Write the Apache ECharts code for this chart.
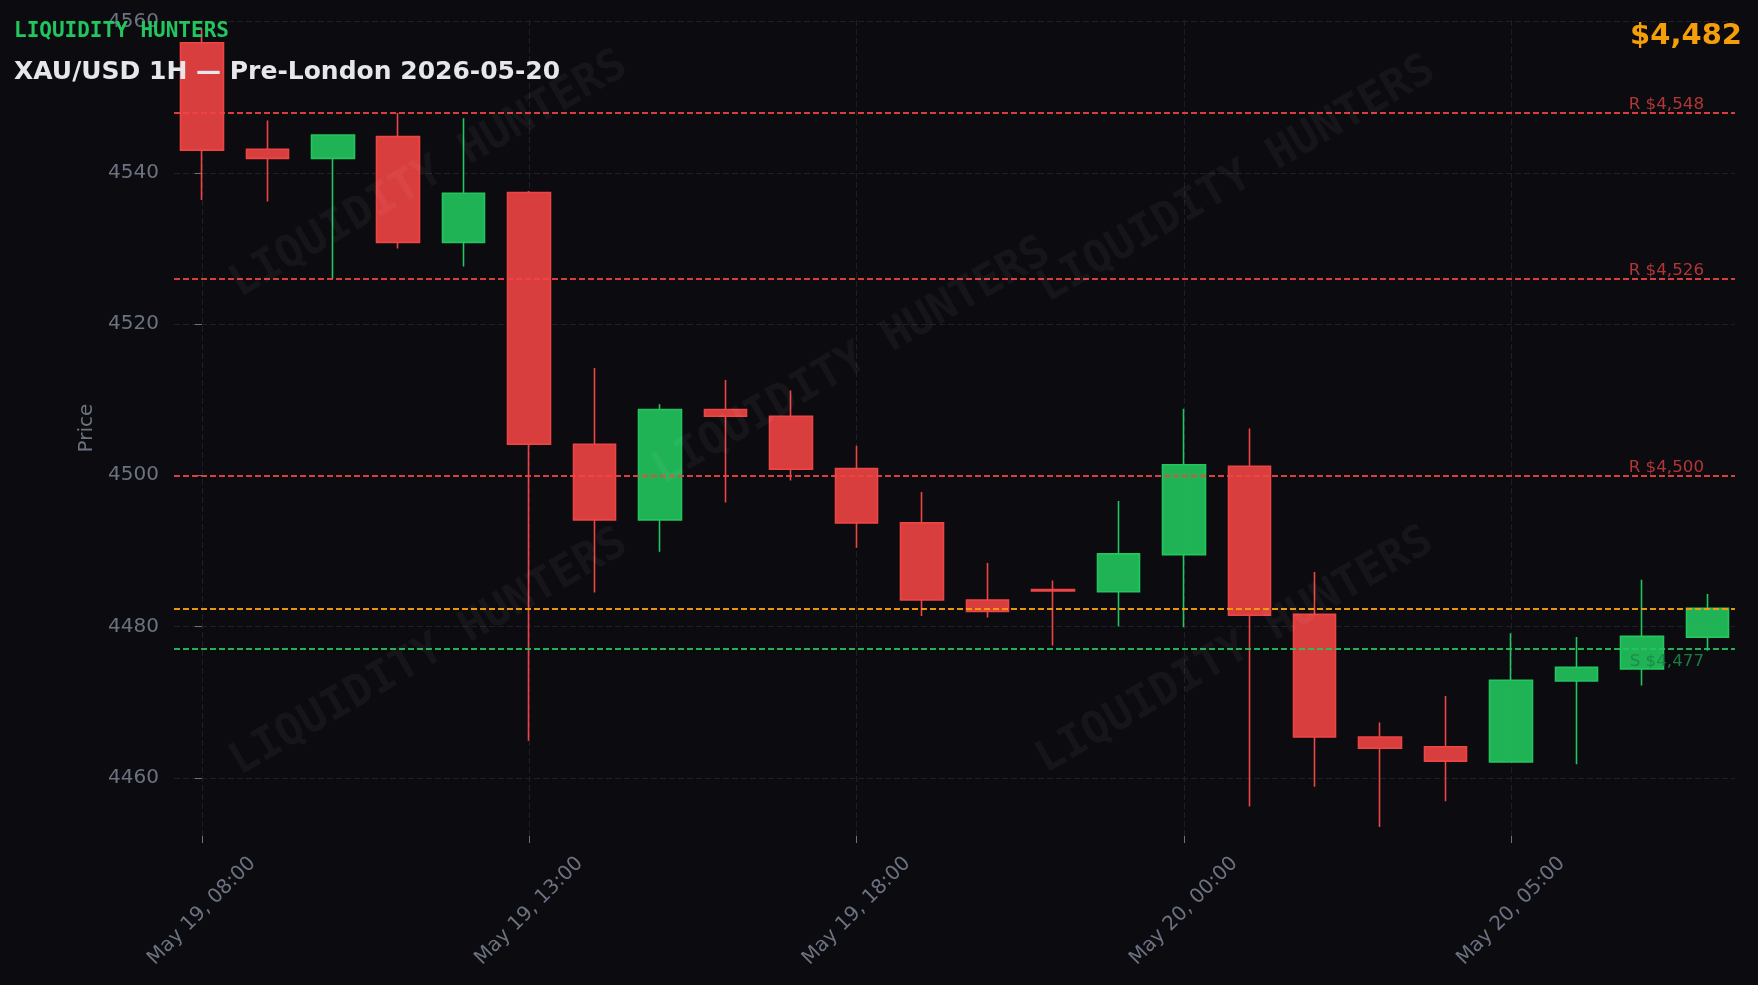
<!DOCTYPE html>
<html>
<head>
<meta charset="utf-8">
<script src="https://cdn.jsdelivr.net/npm/echarts@6/dist/echarts.min.js"></script>
<style>
html,body{margin:0;padding:0;background:#0b0b10;}
#chart{width:1758px;height:985px;}
</style>
</head>
<body>
<div id="chart"></div>
<script>
// ---- data ----
const times = [
  "May 19, 08:00","May 19, 09:00","May 19, 10:00","May 19, 11:00","May 19, 12:00",
  "May 19, 13:00","May 19, 14:00","May 19, 15:00","May 19, 16:00","May 19, 17:00",
  "May 19, 18:00","May 19, 19:00","May 19, 20:00","May 19, 22:00","May 19, 23:00",
  "May 20, 00:00","May 20, 01:00","May 20, 02:00","May 20, 03:00","May 20, 04:00",
  "May 20, 05:00","May 20, 06:00","May 20, 07:00","May 20, 08:00"
];
const opens  = [4557.2,4543.1,4541.9,4544.8,4530.8,4537.4,4504.1,4494.1,4508.7,4507.8,4500.9,4493.7,4483.5,4484.9,4484.6,4489.5,4501.2,4481.6,4465.4,4464.1,4462.1,4472.8,4474.4,4478.6];
const closes = [4543.0,4541.9,4545.0,4530.8,4537.3,4504.1,4494.1,4508.7,4507.8,4500.8,4493.7,4483.5,4482.0,4484.7,4489.6,4501.4,4481.5,4465.4,4463.9,4462.2,4472.9,4474.6,4478.7,4482.4];
const lows   = [4536.4,4536.2,4526.0,4530.0,4527.6,4464.9,4484.5,4489.9,4496.4,4499.3,4490.4,4481.4,4481.2,4477.5,4480.0,4479.9,4456.2,4458.8,4453.5,4456.9,4462.0,4461.8,4472.2,4476.8];
const highs  = [4559.1,4546.9,4545.0,4547.9,4547.2,4537.6,4514.2,4509.4,4512.6,4511.2,4503.9,4497.8,4488.4,4486.1,4496.6,4508.8,4506.2,4487.2,4467.3,4470.8,4479.1,4478.6,4486.2,4484.3];
const yTickValues = [4460,4480,4500,4520,4540,4560];
const xTickIndex = [0,5,10,15,20];
const resistance = [4548,4526,4500];
const support = [4477];
const currentPrice = 4482.4;
const brand = "LIQUIDITY HUNTERS";
const titleText = "XAU/USD 1H \u2014 Pre-London 2026-05-20";

// ---- build ----
const fmt = v => Math.round(v).toLocaleString('en-US');
const candles = times.map((t, i) => [i, opens[i], closes[i], lows[i], highs[i]]);

const levelLines = [];
resistance.forEach(v => levelLines.push({
  yAxis: v,
  lineStyle: {color: '#ef4444', opacity: 0.9},
  label: {show: true, formatter: 'R $' + fmt(v), position: 'insideEndTop', color: '#c43b3b', fontSize: 16.7, fontFamily: 'DejaVu Sans', distance: [31, -1]}
}));
support.forEach(v => levelLines.push({
  yAxis: v,
  lineStyle: {color: '#22c55e', opacity: 0.9},
  label: {show: true, formatter: 'S $' + fmt(v), position: 'insideEndBottom', color: '#1a8746', fontSize: 16.7, fontFamily: 'DejaVu Sans', distance: [31, 4]}
}));
levelLines.push({yAxis: currentPrice, lineStyle: {color: '#f59e0b', opacity: 0.95}, label: {show: false}});

const wmStyle = {text: brand, fill: 'rgba(255,255,255,0.045)', font: 'bold 44px "DejaVu Sans Mono"', align: 'center', verticalAlign: 'middle'};
const wmPos = [[429,175],[852,362],[1237,180],[429,653],[1235,651]];
const rot = 30 * Math.PI / 180;

const gridLine = {show: true, lineStyle: {color: '#1e1f27', width: 1, type: [6, 3]}};

const option = {
  animation: false,
  backgroundColor: '#0b0b10',
  textStyle: {fontFamily: 'DejaVu Sans'},
  grid: {left: 174, right: 23, top: 20, bottom: 149},
  xAxis: {
    type: 'value', min: -0.425, max: 23.42,
    axisLine: {show: false},
    axisTick: {show: true, length: 7, customValues: xTickIndex, lineStyle: {color: '#6b7280'}},
    axisLabel: {
      customValues: xTickIndex, rotate: 45, align: 'center', verticalAlign: 'middle', margin: 75,
      color: '#6b7280', fontSize: 20, fontFamily: 'DejaVu Sans',
      formatter: v => times[Math.round(v)]
    },
    splitLine: gridLine
  },
  yAxis: {
    type: 'value', min: 4452.3, max: 4560.2,
    name: 'Price', nameLocation: 'middle', nameGap: 76,
    nameTextStyle: {color: '#6b7280', fontSize: 20, fontFamily: 'DejaVu Sans'},
    axisLine: {show: false},
    axisTick: {show: true, length: 7, customValues: yTickValues, lineStyle: {color: '#6b7280'}},
    axisLabel: {customValues: yTickValues, margin: 15, color: '#6b7280', fontSize: 20, fontFamily: 'DejaVu Sans', formatter: v => String(v)},
    splitLine: gridLine
  },
  series: [{
    type: 'candlestick',
    data: candles,
    encode: {x: 0, y: [1, 2, 3, 4]},
    barWidth: 43,
    itemStyle: {
      color: 'rgba(34,197,94,0.9)', color0: 'rgba(239,68,68,0.9)',
      borderColor: '#22c55e', borderColor0: '#ef4444', borderWidth: 1.6
    },
    markLine: {
      symbol: 'none', silent: true, animation: false,
      lineStyle: {type: [6, 3], width: 1.8},
      data: levelLines
    }
  }],
  graphic: [
    ...wmPos.map(p => ({type: 'text', x: p[0], y: p[1], rotation: rot, z: 100, silent: true, style: wmStyle})),
    {type: 'text', x: 14, y: 32, z: 110, style: {text: brand, fill: '#22c55e', font: 'bold 21px "DejaVu Sans Mono"', verticalAlign: 'middle'}},
    {type: 'text', x: 14, y: 72, z: 110, style: {text: titleText, fill: '#e5e7eb', font: 'bold 25px "DejaVu Sans"', verticalAlign: 'middle'}},
    {type: 'text', x: 1742, y: 36, z: 110, style: {text: '$' + fmt(currentPrice), fill: '#f59e0b', font: 'bold 29px "DejaVu Sans"', align: 'right', verticalAlign: 'middle'}}
  ]
};

const chart = echarts.init(document.getElementById('chart'), null, {renderer: 'canvas'});
chart.setOption(option);
</script>
</body>
</html>
